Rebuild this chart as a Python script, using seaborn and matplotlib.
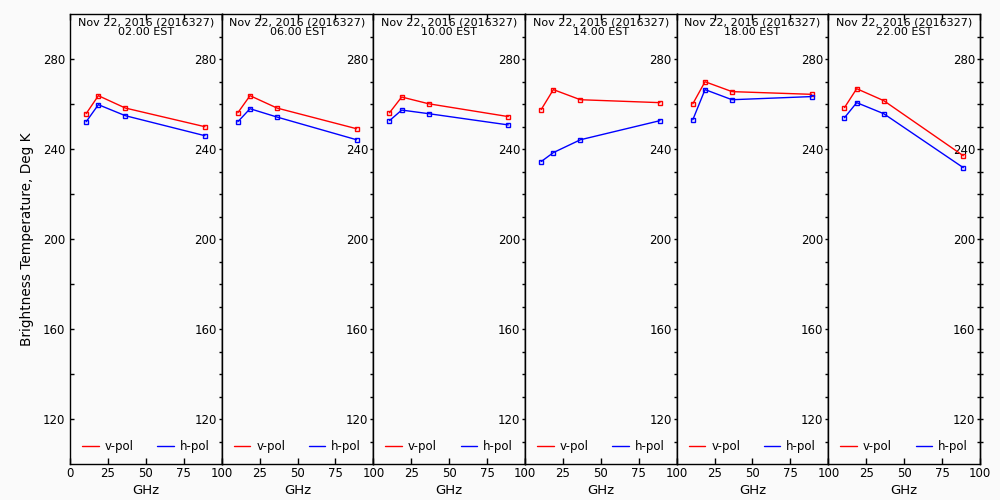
import numpy as np
import pandas as pd
import matplotlib
matplotlib.use("Agg")
import matplotlib.pyplot as plt
from matplotlib.lines import Line2D
import seaborn as sns

sns.set_theme(style="white")
plt.rcParams['font.family'] = ['DejaVu Sans']
plt.rcParams['text.color'] = 'black'
plt.rcParams['axes.labelcolor'] = 'black'

freqs = [10.65, 18.7, 36.5, 89.0]
times = ["02.00 EST", "06.00 EST", "10.00 EST", "14.00 EST", "18.00 EST", "22.00 EST"]
date_label = "Nov 22, 2016 (2016327)"

vpol = [
    [255.7, 263.7, 258.2, 249.9],
    [256.1, 263.7, 258.2, 249.0],
    [256.1, 263.1, 260.1, 254.4],
    [257.5, 266.4, 261.9, 260.6],
    [260.1, 269.9, 265.5, 264.3],
    [258.4, 266.8, 261.5, 237.0],
]
hpol = [
    [252.1, 259.7, 254.8, 245.9],
    [252.1, 257.9, 254.2, 244.1],
    [252.6, 257.3, 255.7, 250.7],
    [234.4, 238.4, 244.1, 252.6],
    [253.0, 266.4, 261.9, 263.3],
    [253.9, 260.6, 255.7, 231.7],
]
yticks = [120, 160, 200, 240, 280]
xticks = [0, 25, 50, 75, 100]

colors = {"v-pol": "#ff0000", "h-pol": "#0000ff"}
bg = "#fafafa"

rows = []
for i, t in enumerate(times):
    for f, v, h in zip(freqs, vpol[i], hpol[i]):
        rows.append({"panel": t, "GHz": f, "Tb": v, "pol": "v-pol"})
        rows.append({"panel": t, "GHz": f, "Tb": h, "pol": "h-pol"})
df = pd.DataFrame(rows)

fig = plt.figure(figsize=(10, 5), dpi=100, facecolor=bg)
axes = fig.subplots(1, 6, sharey=True)
fig.subplots_adjust(left=0.07, right=0.98, top=0.972, bottom=0.072, wspace=0)

for i, (ax, t) in enumerate(zip(axes, times)):
    ax.set_facecolor(bg)
    sub = df[df["panel"] == t]
    for pol in ["v-pol", "h-pol"]:
        d = sub[sub["pol"] == pol]
        sns.lineplot(data=d, x="GHz", y="Tb", ax=ax, color=colors[pol],
                     linewidth=1, marker="s", markersize=3.2,
                     markerfacecolor="none", markeredgecolor=colors[pol],
                     markeredgewidth=1, legend=False, errorbar=None)
    ax.set_xlim(0, 100)
    ax.set_ylim(100, 300)
    for s in ax.spines.values():
        s.set_color("black")
        s.set_linewidth(1)
    ax.set_xticks(xticks)
    ax.set_xticklabels([("" if (x == 0 and i > 0) else str(x)) for x in xticks])
    ax.tick_params(axis="x", direction="in", top=True, bottom=True, length=4,
                   width=1, labelsize=8.5, pad=2, colors="black")
    ax.set_xlabel("GHz", fontsize=9.5, labelpad=3)
    ax.set_ylabel("")
    ax.tick_params(axis="y", which="both", left=(i == 0), right=False,
                   labelleft=(i == 0), direction="in", length=3, width=1,
                   labelsize=8.5, colors="black")
    ax.set_yticks(yticks)
    ax.set_yticks([140, 180, 220, 260], minor=True)

    sec = ax.secondary_yaxis("right")
    sec.set_yticks(yticks)
    sec.set_yticks(np.arange(110, 300, 10), minor=True)
    sec.set_yticklabels([str(y) for y in yticks])
    sec.tick_params(axis="y", which="both", direction="inout", length=5,
                    width=1, labelsize=8.5, pad=-6, colors="black")
    sec.tick_params(axis="y", which="minor", labelright=False)
    for lab in sec.get_yticklabels():
        lab.set_horizontalalignment("right")
    sec.spines["right"].set_linewidth(1)

    ax.text(0.5, 0.993, f"{date_label}\n{t}", transform=ax.transAxes,
            ha="center", va="top", fontsize=8, linespacing=1.0)

    handles = [Line2D([], [], color=colors[p], lw=1) for p in ["v-pol", "h-pol"]]
    ax.legend(handles, ["v-pol", "h-pol"], loc="lower center", ncol=2,
              frameon=False, fontsize=8.5, handlelength=1.4, columnspacing=2.0,
              handletextpad=0.5, bbox_to_anchor=(0.5, 0.0))

axes[0].set_ylabel("Brightness Temperature, Deg K", fontsize=9.8, labelpad=6)

fig.savefig("out.png", dpi=100, facecolor=bg)
